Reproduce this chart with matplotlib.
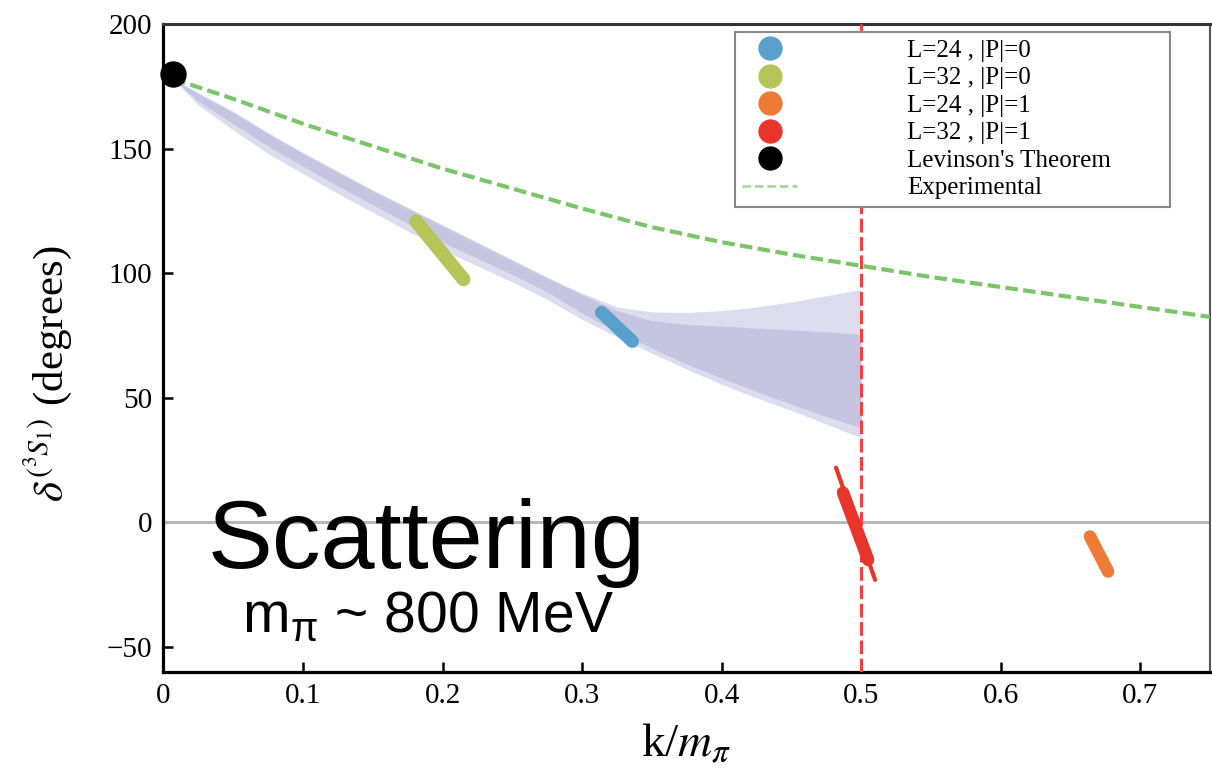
import matplotlib.pyplot as plt
from matplotlib.lines import Line2D

plt.rcParams['font.family'] = 'Liberation Serif'
plt.rcParams['mathtext.fontset'] = 'stix'

# experimental 3S1 phase shift
k_exp = [0.007, 0.05, 0.1, 0.15, 0.2, 0.25, 0.3, 0.35, 0.4, 0.45, 0.5, 0.55, 0.6, 0.65, 0.7, 0.75]
delta_exp = [178, 170, 160, 151, 142, 134, 126, 118.5, 112.5, 107.5, 103, 98.5, 94.5, 90.5, 86.5, 82.5]

# effective range fit band (inner = stat, outer = stat+sys)
k_band = [0.007, 0.025, 0.05, 0.075, 0.1, 0.125, 0.15, 0.175, 0.2, 0.225, 0.25,
          0.275, 0.3, 0.325, 0.35, 0.375, 0.4, 0.425, 0.45, 0.475, 0.5]
inner_hi = [178, 172, 164.5, 156, 148, 140.5, 133, 126, 119, 112, 105,
            98, 91.5, 85, 81, 79.5, 78.8, 78, 77.3, 76.5, 75.5]
inner_lo = [178, 169, 160, 151, 143, 135, 127.5, 120, 112.5, 106, 99.5,
            92.5, 84, 76.5, 70, 63.5, 58, 52.5, 47.5, 42.5, 38]
outer_hi = [178, 172.5, 165, 156.5, 148.5, 141, 133.5, 126.5, 119.5, 112.5, 105.5,
            98.5, 92, 86.5, 84.5, 84.3, 85, 86.5, 88.5, 91, 93.5]
outer_lo = [178, 167.5, 157.5, 148, 140, 132, 124.5, 117, 109.5, 103, 96.5,
            89.5, 81.5, 74.5, 68, 61.5, 55.5, 50, 45, 39.5, 34]

# lattice results, drawn as the spread of each level (start, end)
l24_p0_k = [0.314, 0.336]
l24_p0_d = [84.3, 72.7]
l32_p0_k = [0.181, 0.215]
l32_p0_d = [120.9, 97.6]
l24_p1_k = [0.664, 0.677]
l24_p1_d = [-5.6, -19.7]
l32_p1_k = [0.487, 0.505]
l32_p1_d = [12.0, -15.0]
l32_p1_tail_k = [0.482, 0.510]
l32_p1_tail_d = [22.0, -23.0]

levinson_k = [0.007]
levinson_d = [180]

k_threshold = 0.5

c_blue = '#5aa0cc'
c_green = '#b5c55a'
c_orange = '#ef7a35'
c_red = '#e8352b'
c_exp = '#7cc46a'

fig = plt.figure(figsize=(12.12, 7.75), dpi=100)
ax = fig.add_axes([0.1349, 0.1329, 0.8634, 0.836])

ax.fill_between(k_band, outer_lo, outer_hi, color='#dcdcee', lw=0, zorder=1)
ax.fill_between(k_band, inner_lo, inner_hi, color='#c5c5e2', lw=0, zorder=2)

ax.axhline(0, color='#b8b8b8', lw=2.2, zorder=2)
ax.plot(k_exp, delta_exp, color=c_exp, lw=3, dashes=(3, 1.3), zorder=3)
ax.axvline(k_threshold, color='#ff3b3b', lw=2.2, dashes=(4.5, 1.5), zorder=4)

ax.plot(l32_p0_k, l32_p0_d, color=c_green, lw=10, solid_capstyle='round', zorder=5)
ax.plot(l24_p0_k, l24_p0_d, color=c_blue, lw=9.5, solid_capstyle='round', zorder=5)
ax.plot(l24_p1_k, l24_p1_d, color=c_orange, lw=9, solid_capstyle='round', zorder=5)
ax.plot(l32_p1_tail_k, l32_p1_tail_d, color=c_red, lw=3, solid_capstyle='round', zorder=5)
ax.plot(l32_p1_k, l32_p1_d, color=c_red, lw=9, solid_capstyle='round', zorder=5)
ax.plot(levinson_k, levinson_d, 'o', color='black', ms=18, zorder=6, clip_on=False)

ax.set_xlim(0, 0.75)
ax.set_ylim(-60, 200)
ax.set_xticks([0, 0.1, 0.2, 0.3, 0.4, 0.5, 0.6, 0.7])
ax.set_xticklabels(['0', '0.1', '0.2', '0.3', '0.4', '0.5', '0.6', '0.7'])
ax.set_yticks([-50, 0, 50, 100, 150, 200])
ax.set_yticklabels(['\u221250', '0', '50', '100', '150', '200'])
ax.tick_params(direction='in', length=7, width=1.8, labelsize=21, pad=8)

for side in ['left', 'bottom']:
    ax.spines[side].set_linewidth(2.3)
ax.spines['top'].set_linewidth(2.2)
ax.spines['top'].set_color('#333333')
ax.spines['right'].set_linewidth(1.5)
ax.spines['right'].set_color('#555555')

ax.set_xlabel(r'k/$m_\pi$', fontsize=34, labelpad=10)
ax.set_ylabel(r'$\delta^{(^3S_1)}$ (degrees)', fontsize=31)
ax.yaxis.set_label_coords(-0.086, 0.46)

handles = [
    Line2D([], [], ls='none', marker='o', ms=16.5, color=c_blue),
    Line2D([], [], ls='none', marker='o', ms=16.5, color=c_green),
    Line2D([], [], ls='none', marker='o', ms=16.5, color=c_orange),
    Line2D([], [], ls='none', marker='o', ms=16.5, color=c_red),
    Line2D([], [], ls='none', marker='o', ms=16.5, color='black'),
    Line2D([], [], color='#a8d8a0', lw=2, dashes=(3, 1.5)),
]
labels = ['L=24 , |P|=0', 'L=32 , |P|=0', 'L=24 , |P|=1', 'L=32 , |P|=1',
          "Levinson's Theorem", 'Experimental']
leg = ax.legend(handles, labels, loc='upper left', mode='expand',
                bbox_to_anchor=(0.546, 0.718, 0.416, 0.27), borderaxespad=0,
                fontsize=18, labelspacing=0.2, handlelength=2.2, handletextpad=4.4,
                borderpad=0.3, fancybox=False, framealpha=1, edgecolor='#888888')
leg.get_frame().set_linewidth(1.5)
leg.set_zorder(10)

ax.text(0.251, 0.160, 'Scattering', transform=ax.transAxes, ha='center', va='baseline',
        fontsize=70, family='Liberation Sans', zorder=11)
ax.text(0.253, 0.062, r'$\mathregular{m_π}$ ~ 800 MeV', transform=ax.transAxes,
        ha='center', va='baseline', fontsize=41, family='Liberation Sans', zorder=11)

fig.savefig('out.png', dpi=100)
